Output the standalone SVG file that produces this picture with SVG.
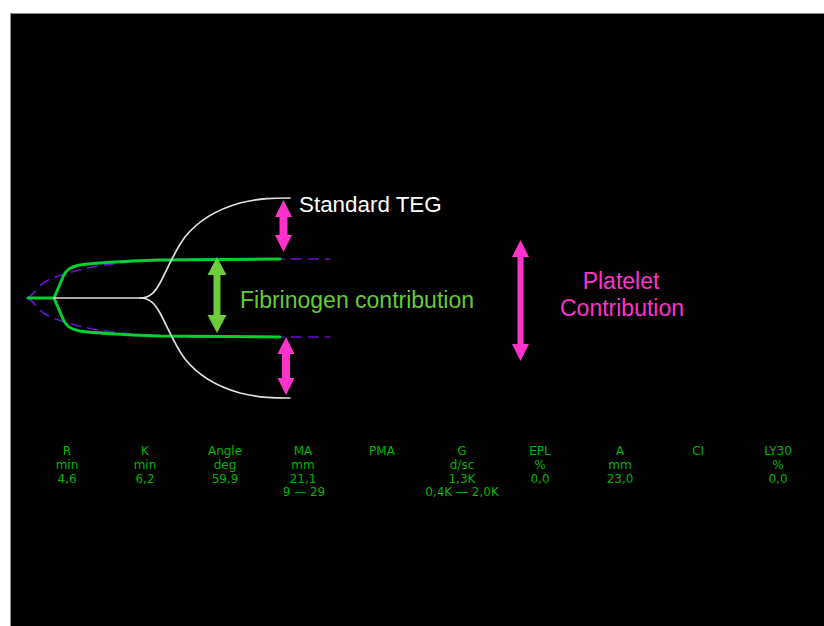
<svg xmlns="http://www.w3.org/2000/svg" width="824" height="626" viewBox="0 0 824 626">
<defs>
<style>
.tr{fill:none;stroke-linejoin:round;stroke-linecap:round}
.white{stroke:#e0e0e0;stroke-width:1.7}
.green{stroke:#00d030;stroke-width:3}
.purple{stroke:#6a0fd0;stroke-width:1.6;stroke-dasharray:11 6;stroke-linecap:butt}
.pink{fill:#ff33cc}
.garr{fill:#6ccc3c}
.lbl{font-family:"Liberation Sans",Arial,sans-serif;font-size:23px}
.tb{font-family:"DejaVu Sans",Verdana,sans-serif;font-size:12px;fill:#00b400;text-anchor:middle}
</style>
</defs>
<rect x="0" y="0" width="824" height="626" fill="#ffffff"/>
<rect id="frame" x="10.5" y="13.5" width="820" height="620" fill="#000000" stroke="#8a8a8a" stroke-width="1"/>

<g id="traces">
<g id="purple-trace">
<path class="tr purple" d="M28,298 C34,294 38,287 42,284 C50,278 62,274 92,267 C120,262 150,260 200,259 L330,259"/>
<path class="tr purple" d="M28,298 C34,302 38,309 42,312 C50,318 62,322 92,329 C120,334 150,336 200,337 L330,337"/>
</g>
<g id="green-trace">
<path class="tr green" d="M28,298 H54 L63,277 C66,270 70,267 80,265 C100,262 130,261 160,260 L280,259"/>
<path class="tr green" d="M54,298 L63,319 C66,326 70,329 80,331 C100,334 130,335 160,336 L280,337"/>
</g>
<g id="standard-teg-trace">
<path class="tr white" d="M54,298 H140 C150,298 155,292 160,283 C168,268 175,250 185,237 C197,222 215,210 240,203 C260,198 275,198 290,198"/>
<path class="tr white" d="M140,298 C150,298 155,304 160,313 C168,328 175,346 185,359 C197,374 215,386 240,393 C260,398 275,398 290,398"/>
</g>
</g>

<g id="connectors">
<polygon id="arrow-teg-upper" class="pink" points="283.5,200 292,217 287.5,217 287.5,235 292,235 283.5,252 275,235 279.5,235 279.5,217 275,217"/>
<polygon id="arrow-teg-lower" class="pink" points="286,337 294.5,354 290,354 290,378 294.5,378 286,395 277.5,378 282,378 282,354 277.5,354"/>
<polygon id="arrow-fibrinogen" class="garr" points="217,257 226.5,275 220.5,275 220.5,315 226.5,315 217,333 207.5,315 213.5,315 213.5,275 207.5,275"/>
<polygon id="arrow-platelet" class="pink" points="520.5,240 529,257 523.5,257 523.5,344 529,344 520.5,361 512,344 517.5,344 517.5,257 512,257"/>
</g>

<g id="label-standard-teg"><text class="lbl" x="299" y="212" fill="#ffffff" style="font-size:22.4px">Standard TEG</text></g>
<g id="label-fibrinogen"><text class="lbl" x="240" y="308" fill="#66cc33">Fibrinogen contribution</text></g>
<g id="label-platelet">
<text class="lbl" x="621" y="289" fill="#ff33cc" text-anchor="middle">Platelet</text>
<text class="lbl" x="622" y="316" fill="#ff33cc" text-anchor="middle">Contribution</text>
</g>

<g id="results-table">
<g id="col-r"><text class="tb" x="67" y="455">R</text><text class="tb" x="67" y="469">min</text><text class="tb" x="67" y="483">4,6</text></g>
<g id="col-k"><text class="tb" x="145" y="455">K</text><text class="tb" x="145" y="469">min</text><text class="tb" x="145" y="483">6,2</text></g>
<g id="col-angle"><text class="tb" x="225" y="455">Angle</text><text class="tb" x="225" y="469">deg</text><text class="tb" x="225" y="483">59,9</text></g>
<g id="col-ma"><text class="tb" x="303" y="455">MA</text><text class="tb" x="303" y="469">mm</text><text class="tb" x="303" y="483">21,1</text><text class="tb" x="304" y="496">9 — 29</text></g>
<g id="col-pma"><text class="tb" x="382" y="455">PMA</text></g>
<g id="col-g"><text class="tb" x="462" y="455">G</text><text class="tb" x="462" y="469">d/sc</text><text class="tb" x="462" y="483">1,3K</text><text class="tb" x="462" y="496">0,4K — 2,0K</text></g>
<g id="col-epl"><text class="tb" x="540" y="455">EPL</text><text class="tb" x="540" y="469">%</text><text class="tb" x="540" y="483">0,0</text></g>
<g id="col-a"><text class="tb" x="620" y="455">A</text><text class="tb" x="620" y="469">mm</text><text class="tb" x="620" y="483">23,0</text></g>
<g id="col-ci"><text class="tb" x="698" y="455">CI</text></g>
<g id="col-ly30"><text class="tb" x="778" y="455">LY30</text><text class="tb" x="778" y="469">%</text><text class="tb" x="778" y="483">0,0</text></g>
</g>
</svg>
